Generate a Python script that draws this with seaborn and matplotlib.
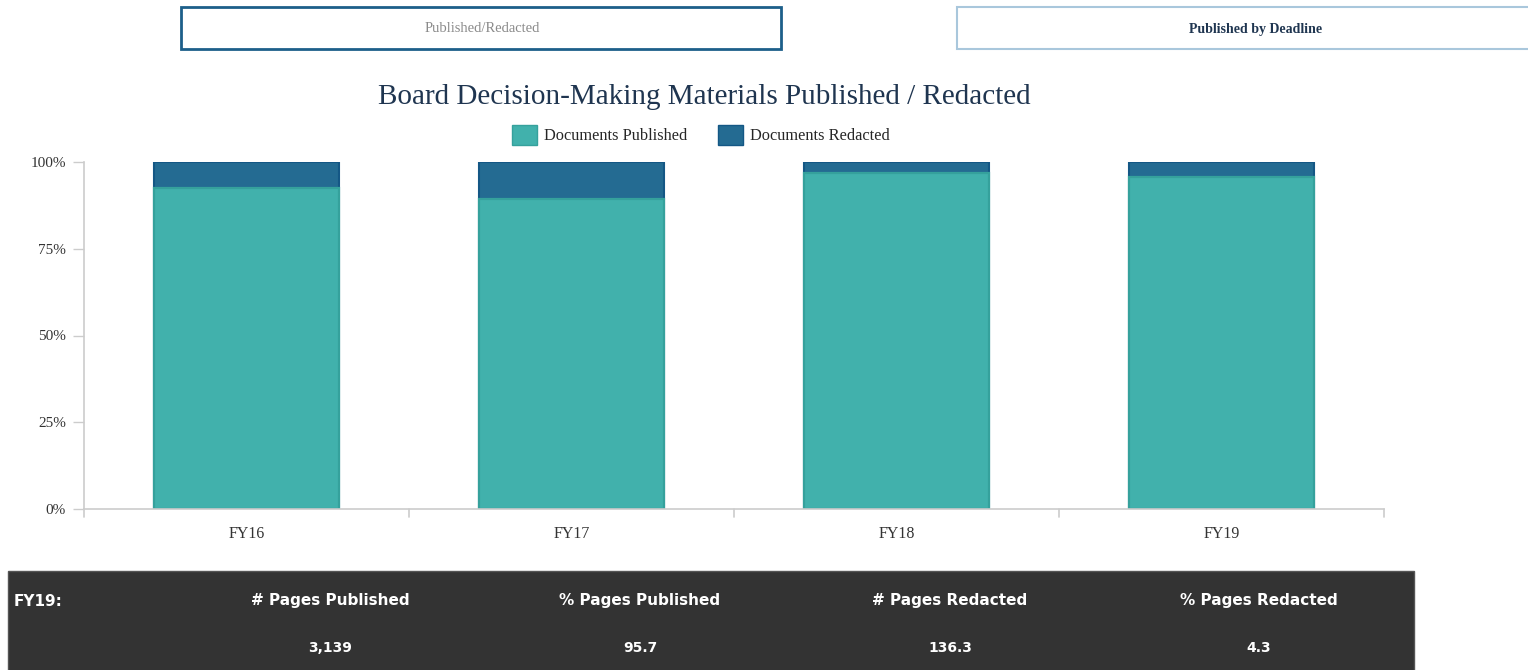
import matplotlib
matplotlib.use("Agg")
import matplotlib.pyplot as plt
from matplotlib.patches import Rectangle, Patch
import seaborn as sns
import pandas as pd

# Share of board decision-making documents per fiscal year (percent)
years = ["FY16", "FY17", "FY18", "FY19"]
published = [92.6, 89.2, 96.8, 95.7]
redacted = [7.4, 10.8, 3.2, 4.3]

# FY19 page summary
summary_label = "FY19:"
summary_headers = ["# Pages Published", "% Pages Published", "# Pages Redacted", "% Pages Redacted"]
summary_values = ["3,139", "95.7", "136.3", "4.3"]

tab_labels = ["Published/Redacted", "Published by Deadline"]

TEAL = "#41b1ac"
TEAL_EDGE = "#35a19c"
BLUE = "#246b92"
BLUE_EDGE = "#145785"
SERIF = ["Liberation Serif", "DejaVu Serif"]

sns.set_theme(style="white")
plt.rcParams["font.family"] = SERIF

W, H = 1528, 670
fig = plt.figure(figsize=(W / 100, H / 100), dpi=100)

def fx(px):
    return px / W

def fy(py):
    return 1 - py / H

df = pd.DataFrame({"year": years, "published": published, "redacted": redacted})
df["total"] = df["published"] + df["redacted"]

ax = fig.add_axes([fx(84), fy(509), fx(1384) - fx(84), fy(162) - fy(509)])
# full stack in the redacted colour, then the published share laid over it
sns.barplot(data=df, x="year", y="total", color=BLUE, edgecolor=BLUE_EDGE,
            linewidth=1.5, width=0.567, saturation=1, ax=ax)
sns.barplot(data=df, x="year", y="published", color=TEAL, edgecolor=TEAL_EDGE,
            linewidth=1.6, width=0.567, saturation=1, ax=ax)

ax.set_xlim(-0.5, len(years) - 0.5)
ax.set_ylim(0, 100)
ax.set_xlabel("")
ax.set_ylabel("")
ax.set_yticks([0, 25, 50, 75, 100])
ax.set_yticklabels([f"{v}%" for v in [0, 25, 50, 75, 100]])
ax.set_xticks(range(len(years)))
ax.set_xticklabels(years)
ax.tick_params(axis="x", length=0, pad=12, labelsize=11.5, labelcolor="#333333")
ax.tick_params(axis="y", length=8, width=1, color="#cccccc", pad=5,
               labelsize=11, labelcolor="#333333", left=True)
# category separators on the x axis
for b in [-0.5, 0.5, 1.5, 2.5, 3.5]:
    ax.plot([b, b], [0, -2.3], color="#cccccc", lw=1.2, clip_on=False)
for s in ["top", "right"]:
    ax.spines[s].set_visible(False)
for s in ["left", "bottom"]:
    ax.spines[s].set_color("#cccccc")
    ax.spines[s].set_linewidth(1.2)

# chart title and legend
fig.text(fx(704), fy(97), "Board Decision-Making Materials Published / Redacted",
         ha="center", va="center", fontsize=21, color="#1f3550", family=SERIF)
handles = [Patch(facecolor=TEAL, edgecolor=TEAL_EDGE), Patch(facecolor=BLUE, edgecolor=BLUE_EDGE)]
fig.legend(handles, ["Documents Published", "Documents Redacted"], loc="center",
           bbox_to_anchor=(fx(701), fy(135)), ncol=2, frameon=False,
           handlelength=1.5, handleheight=1.5, handletextpad=0.45,
           columnspacing=1.9, prop={"family": SERIF, "size": 11.8})

# tab buttons along the top
fig.patches.append(Rectangle((fx(181), fy(49)), fx(781) - fx(181), fy(7) - fy(49),
                             transform=fig.transFigure, facecolor="white",
                             edgecolor="#1d5f8a", lw=2))
fig.text(fx(482), fy(29), tab_labels[0], ha="center", va="center",
         fontsize=10.5, color="#8a8a8a", family=SERIF)
fig.patches.append(Rectangle((fx(957), fy(49)), fx(1540) - fx(957), fy(7) - fy(49),
                             transform=fig.transFigure, facecolor="white",
                             edgecolor="#a9c7dc", lw=1.5))
fig.text(fx(1256), fy(29), tab_labels[1], ha="center", va="center",
         fontsize=10, color="#1f3550", family=SERIF, fontweight="bold")

# summary strip
fig.patches.append(Rectangle((fx(8), fy(672)), fx(1414) - fx(8), fy(571) - fy(672),
                             transform=fig.transFigure, facecolor="#333333",
                             edgecolor="#555555", lw=1))
TBL = ["DejaVu Sans"]
fig.text(fx(14), fy(601), summary_label, ha="left", va="center", fontsize=11,
         color="white", fontweight="bold", family=TBL)
for cx, head, val in zip([330, 640, 950, 1259], summary_headers, summary_values):
    fig.text(fx(cx), fy(601), head, ha="center", va="center", fontsize=11,
             color="white", fontweight="bold", family=TBL)
    fig.text(fx(cx), fy(648), val, ha="center", va="center", fontsize=10,
             color="white", fontweight="bold", family=TBL)

fig.savefig("out.png", dpi=100, facecolor="white")
